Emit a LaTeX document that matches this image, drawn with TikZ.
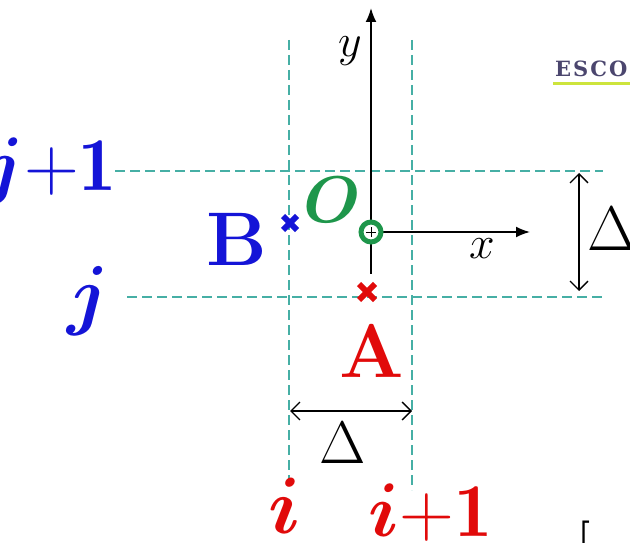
\RequirePackage{fix-cm}
\documentclass[tikz,border=0pt]{standalone}
\usepackage{amsmath,bm}
\usepackage{fontspec}
\newfontfamily\logofont[LetterSpace=10]{DejaVu Serif}
\usetikzlibrary{arrows.meta}
\definecolor{gridc}{RGB}{70,175,165}
\definecolor{ptblue}{RGB}{20,20,215}
\definecolor{ptred}{RGB}{225,10,10}
\definecolor{ptgreen}{RGB}{30,150,75}
\definecolor{logoc}{RGB}{75,70,110}
\definecolor{logoline}{RGB}{205,228,60}
\tikzset{
  gridline/.style={gridc, line width=1.4pt, dash pattern=on 10pt off 5pt},
  axisline/.style={black, line width=1.8pt, -{Latex[length=14pt,width=11pt]}},
  dimline/.style={black, line width=1.4pt, {Straight Barb[length=9pt,width=18pt]}-{Straight Barb[length=9pt,width=18pt]}},
  crossmark/.style={line width=6pt},
  lbl/.style={inner sep=0pt, outer sep=0pt},
}
\newcommand{\fsz}[1]{\fontsize{#1}{#1}\selectfont}
\begin{document}
\begin{tikzpicture}[x=1pt,y=-1pt]
\useasboundingbox (0,0) rectangle (630,543);
\clip (0,0) rectangle (630,543);
% grid lines
\draw[gridline] (289,40) -- (289,482);
\draw[gridline] (412,40) -- (412,490);
\draw[gridline] (115,171) -- (603,171);
\draw[gridline] (127,297) -- (603,297);
% origin and axes
\coordinate (O) at (371,232);
\coordinate (ytip) at (371,8);
\coordinate (xtip) at (530,232);
\coordinate (ybot) at (371,274);
\draw[black, line width=1.8pt] (O) -- (ybot);
\draw[axisline] (O) -- (ytip);
\draw[axisline] (O) -- (xtip);
\node[circle, draw=ptgreen, fill=white, line width=5pt, minimum size=20pt, inner sep=0pt] (Oc) at (O) {};
\draw[black, line width=0.8pt] (366,232) -- (376,232) (371,227) -- (371,237);
% crosses
\coordinate (Bp) at (290,223);
\coordinate (Ap) at (367,292);
\draw[crossmark, ptblue] ([shift={(-7,-7)}]Bp) -- ([shift={(7,7)}]Bp) ([shift={(-7,7)}]Bp) -- ([shift={(7,-7)}]Bp);
\draw[crossmark, ptred] ([shift={(-8,-8)}]Ap) -- ([shift={(8,8)}]Ap) ([shift={(-8,8)}]Ap) -- ([shift={(8,-8)}]Ap);
% dimension arrows
\coordinate (dv1) at (579,173);
\coordinate (dv2) at (579,291);
\coordinate (dh1) at (290,411);
\coordinate (dh2) at (412,411);
\draw[dimline] (dv1) -- (dv2);
\draw[dimline] (dh1) -- (dh2);
% labels
\node[lbl, anchor=base east, ptblue] (jp1) at (117,190) {\fsz{76}$\bm{j}{+}\mathbf{1}$};
\node[lbl, anchor=base, ptblue] (jl) at (88,320) {\fsz{78}$\bm{j}$};
\node[lbl, anchor=base, ptred] (il) at (285,533) {\fsz{80}$\bm{i}$};
\node[lbl, anchor=base east, ptred] (ip1) at (492,536) {\fsz{76}$\bm{i}{+}\mathbf{1}$};
\node[lbl, anchor=base, ptblue] (Bl) at (237,265) {\fsz{76}\bfseries B};
\node[lbl, anchor=base, ptred] (Al) at (372,377) {\fsz{76}\bfseries A};
\node[lbl, anchor=base, ptgreen] (Ol) at (332,222) {\fsz{66}$\bm{O}$};
\node[lbl, anchor=base] (yl) at (350,57) {\fsz{46}$y$};
\node[lbl, anchor=base] (xl) at (482,258) {\fsz{46}$x$};
\node[lbl, anchor=base west] (dvl) at (587,250) {\fsz{63}$\Delta$};
\node[lbl, anchor=base] (dhl) at (343,463) {\fsz{60}$\Delta$};
% cropped logo and bracket
\node[lbl, anchor=base west, logoc] (logo) at (555,77) {\fsz{21}\logofont\bfseries ESCO};
\draw[logoline, line width=3pt] (553,84) -- (630,84);
\node[lbl, anchor=base west] (br) at (577,552) {\fsz{42}\bfseries [};
\end{tikzpicture}
\end{document}
